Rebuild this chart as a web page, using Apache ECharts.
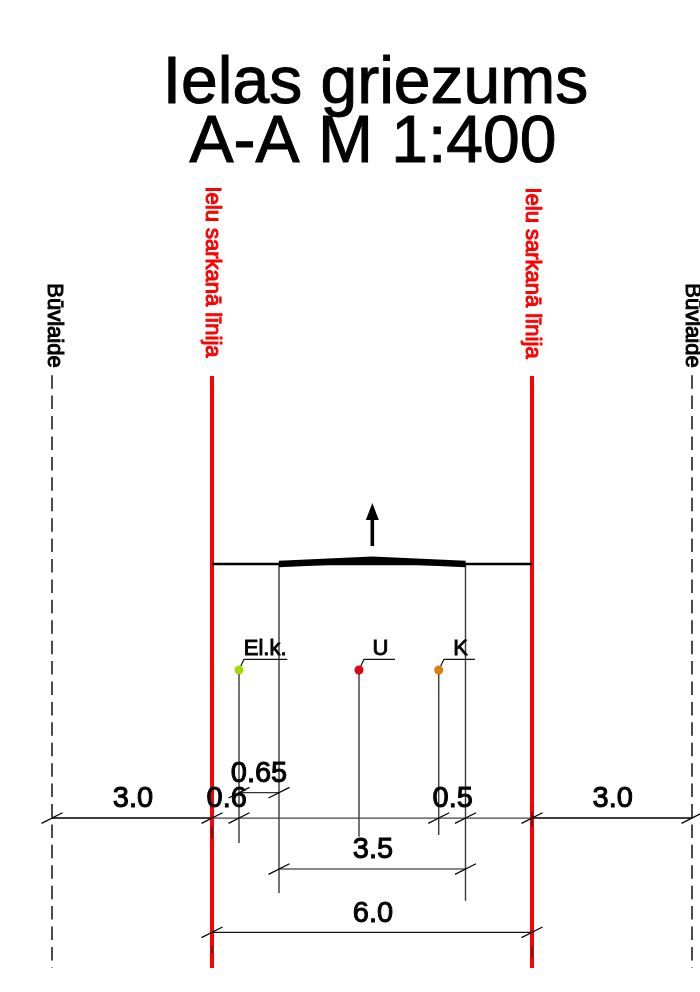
<!DOCTYPE html>
<html>
<head>
<meta charset="utf-8">
<style>html,body{margin:0;padding:0;background:#fff;overflow:hidden}#c{width:700px;height:992px}</style>
<script src="https://cdn.jsdelivr.net/npm/echarts@6/dist/echarts.min.js"></script>
</head>
<body>
<div id="c"></div>
<script>
// All values are metres: x from the left red line, y up from the road surface.
var titleLines = ['Ielas griezums', 'A-A M 1:400'];
var redLabel = 'Ielu sarkanā līnija';
var setbackLabel = 'Būvlaide';

var redLineX = [0, 6];
var setbackX = [-3, 9];
var lineTop = 3.525;
var setbackTop = 3.54;
var lineBottom = -7.575;

var groundX = [0, 6];
var roadX = [1.256, 3.006, 4.753];
var roadY = [0, 0.08, 0];
var arrowX = 3.006;
var arrowShaftY = [0.3375, 0.86];
var arrowHeadY = 0.985;

var utilityNames = ['El.k.', 'U', 'K'];
var utilityX = [0.506, 2.756, 4.251];
var utilityY = -1.988;
var utilityColors = ['#a4d80a', '#dc0612', '#d97f10'];
var leaderY = -1.787;
var leaderKneeX = [0.6, 2.85, 4.35];
var leaderEndX = [1.412, 3.432, 4.93];
var utilityLabelX = [0.996, 3.16, 4.66];
var utilityLabelY = -1.6;

var verticalX = [0.506, 1.256, 2.756, 4.251, 4.753];
var verticalTop = [-1.988, 0, -1.988, -1.988, 0];
var verticalBottom = [-5.231, -6.169, -5.113, -5.081, -6.313];

var dimNames = ['3.0', '0.6', '0.65', '0.5', '3.0', '3.5', '6.0'];
var dimLabelX = [-1.481, 0.276, 0.881, 4.513, 7.513, 3.019, 3.019];
var dimLabelY = [-4.41, -4.41, -3.94, -4.41, -4.41, -5.365, -6.565];

var mainDimY = -4.763;
var outerDimX = [[-3, 0], [6, 9]];
var innerDimX = [0, 6];
var mainTickX = [-3, 0, 0.506, 4.251, 4.753, 6, 9];
var shortDimX = [0.506, 1.256];
var shortDimY = -4.288;
var midDimX = [1.256, 4.753];
var midDimY = -5.719;
var lowDimX = [0, 6];
var lowDimY = -6.906;
var tickHalfX = 0.197;
var tickHalfY = 0.1;

var redMarkX = [0, 0, 6, 6];
var redMarkTop = [-4.913, -7.163, -4.65, -7.163];
var redMarkBottom = [-5.156, -7.313, -4.931, -7.388];

function segments(list, color, width, extra) {
  var data = [];
  list.forEach(function (s) { s.forEach(function (p) { data.push(p); }); data.push(['-', '-']); });
  return Object.assign({
    type: 'line', data: data, symbol: 'none', silent: true, clip: false,
    connectNulls: false, animation: false,
    lineStyle: { color: color, width: width, cap: 'butt' }
  }, extra || {});
}
function ticks(xs, y) {
  return xs.map(function (x) { return [[x - tickHalfX, y - tickHalfY], [x + tickHalfX, y + tickHalfY]]; });
}
function textSeries(items, style) {
  return {
    type: 'scatter', symbolSize: 0, silent: true, clip: false, animation: false, z: 6,
    itemStyle: { opacity: 1 },
    data: items.map(function (it) {
      return { value: [it[0], it[1]], label: { formatter: it[2] } };
    }),
    label: Object.assign({
      show: true, position: 'inside', align: 'center', verticalAlign: 'middle',
      fontFamily: 'Liberation Sans', color: '#000'
    }, style)
  };
}

var mainTicks = ticks(mainTickX, mainDimY)
  .concat(ticks(shortDimX, shortDimY))
  .concat(ticks(midDimX, midDimY))
  .concat(ticks(lowDimX, lowDimY));

var series = [
  segments(setbackX.map(function (x) { return [[x, setbackTop], [x, lineBottom]]; }), '#000', 1.4,
    { lineStyle: { color: '#000', width: 1.4, type: [13.5, 6.92], cap: 'butt' } }),
  segments(redLineX.map(function (x) { return [[x, lineTop], [x, lineBottom]]; }), '#ff0000', 4),
  segments(verticalX.map(function (x, i) { return [[x, verticalTop[i]], [x, verticalBottom[i]]]; }), '#3a3a3a', 1.4),
  segments([[[groundX[0], 0], [groundX[1], 0]]], '#000', 2.6),
  segments([roadX.map(function (x, i) { return [x, roadY[i]]; })], '#000', 6.6,
    { lineStyle: { color: '#000', width: 6.6, cap: 'butt', join: 'miter' } }),
  segments([[[arrowX, arrowShaftY[0]], [arrowX, arrowShaftY[1]]]], '#000', 3.6),
  {
    type: 'scatter', silent: true, animation: false, clip: false,
    data: [[arrowX, arrowHeadY]], symbol: 'triangle', symbolSize: [13, 17],
    itemStyle: { color: '#000', opacity: 1 }
  },
  segments(utilityX.map(function (x, i) {
    return [[x, utilityY], [leaderKneeX[i], leaderY], [leaderEndX[i], leaderY]];
  }), '#111', 1.2),
  segments(outerDimX.map(function (d) { return [[d[0], mainDimY], [d[1], mainDimY]]; }), '#000', 1.6),
  segments([[[innerDimX[0], mainDimY], [innerDimX[1], mainDimY]]], '#444', 1.2),
  segments([[[shortDimX[0], shortDimY], [shortDimX[1], shortDimY]]], '#333', 1.2),
  segments([[[midDimX[0], midDimY], [midDimX[1], midDimY]]], '#111', 1.2),
  segments([[[lowDimX[0], lowDimY], [lowDimX[1], lowDimY]]], '#111', 1.2),
  segments(mainTicks, '#000', 1.2),
  segments(redMarkX.map(function (x, i) { return [[x, redMarkTop[i]], [x, redMarkBottom[i]]]; }), '#222', 1.2),
  {
    type: 'scatter', silent: true, animation: false, clip: false, z: 5,
    symbolSize: 9,
    data: utilityX.map(function (x, i) {
      return { value: [x, utilityY], itemStyle: { color: utilityColors[i], opacity: 1 } };
    })
  },
  segments(utilityX.map(function (x) { return [[x, utilityY], [x, utilityY - 0.09]]; }), '#3a3a3a', 1.4, { z: 5 }),
  textSeries(dimNames.map(function (n, i) { return [dimLabelX[i], dimLabelY[i], n]; }),
    { fontSize: 29, textBorderColor: '#000', textBorderWidth: 1 }),
  textSeries(utilityNames.map(function (n, i) { return [utilityLabelX[i], utilityLabelY, n]; }),
    { fontSize: 22, textBorderColor: '#000', textBorderWidth: 0.9 }),
  textSeries([[0.0, 5.475, redLabel], [6.0, 5.456, redLabel]],
    { fontSize: 22, color: '#ff0000', rotate: -90, textBorderColor: '#ff0000', textBorderWidth: 1 }),
  textSeries([[-2.97, 4.472, setbackLabel], [9.0, 4.472, setbackLabel]],
    { fontSize: 22, rotate: -90, textBorderColor: '#000', textBorderWidth: 1 })
];

var chart = echarts.init(document.getElementById('c'), null, { renderer: 'canvas' });
chart.setOption({
  backgroundColor: '#fff',
  animation: false,
  title: [
    { text: titleLines[0], left: 375.5, top: 52, textAlign: 'center', padding: 0,
      textStyle: { fontFamily: 'Liberation Sans', fontSize: 66, fontWeight: 'normal', color: '#000', textBorderColor: '#000', textBorderWidth: 1 } },
    { text: titleLines[1], left: 373, top: 111, textAlign: 'center', padding: 0,
      textStyle: { fontFamily: 'Liberation Sans', fontSize: 66, fontWeight: 'normal', color: '#000', textBorderColor: '#000', textBorderWidth: 1 } }
  ],
  grid: { left: 0, top: 0, width: 700, height: 992, containLabel: false },
  xAxis: { type: 'value', min: -3.975, max: 9.15, show: false, scale: true },
  yAxis: { type: 'value', min: -8.025, max: 10.575, show: false, scale: true },
  tooltip: { show: false },
  legend: { show: false },
  series: series
});
</script>
</body>
</html>
